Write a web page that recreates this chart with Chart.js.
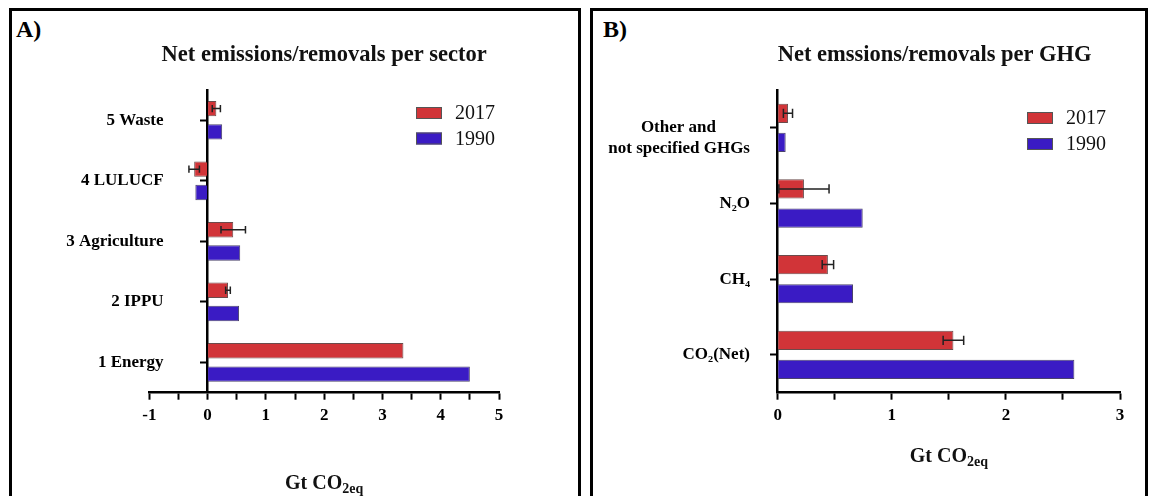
<!DOCTYPE html>
<html lang="en">
<head>
<meta charset="UTF-8">
<title>Net emissions/removals per sector and per GHG</title>
<script src="https://cdn.jsdelivr.net/npm/chart.js@4.4.1/dist/chart.umd.min.js"></script>
<style>
html, body { margin: 0; padding: 0; background: #fff; overflow: hidden; }
body { width: 1150px; height: 496px; position: relative; font-family: "Liberation Serif", "Times New Roman", serif; }
.panel { position: absolute; top: 8px; height: 500px; border: 3px solid #000; box-sizing: border-box; }
.box { position: absolute; top: 11px; }
.tag { position: absolute; top: 17px; font-weight: bold; font-size: 24px; line-height: 24px; }
</style>
</head>
<body>

<script>
// panel A - per sector (top to bottom)
var sectorLabels = ['5 Waste', '4 LULUCF', '3 Agriculture', '2 IPPU', '1 Energy'];
var sector2017 = [0.15, -0.23, 0.44, 0.35, 3.36];
var sector2017Err = [0.07, 0.09, 0.21, 0.04, null];
var sector1990 = [0.25, -0.21, 0.56, 0.54, 4.50];
var sectorRange = [-1, 5];

// panel B - per gas (top to bottom)
var ghgLabels = [['', 'Other and        ', 'not specified GHGs'], 'N\u2082O', 'CH\u2084', 'CO\u2082(Net)'];
var ghg2017 = [0.09, 0.23, 0.44, 1.54];
var ghg2017Err = [0.04, 0.22, 0.05, 0.09];
var ghg1990 = [0.07, 0.745, 0.66, 2.60];
var ghgRange = [0, 3];

var seriesNames = ['2017', '1990'];
var red = '#d13438';
var blue = '#3a1bc4';
</script>

<div class="panel" style="left:9px; width:572px;"></div>
<div class="panel" style="left:590px; width:558px;"></div>
<div class="tag" style="left:16px;">A)</div>
<div class="tag" style="left:603px;">B)</div>

<div class="box" style="left:12px;"><canvas id="chartA" width="566" height="485"></canvas></div>
<div class="box" style="left:593px;"><canvas id="chartB" width="552" height="485"></canvas></div>

<script>
var serif = "'Liberation Serif', 'Times New Roman', serif";

// error bars for datasets that carry an "errors" array
var errorBars = {
  id: 'errorBars',
  afterDatasetsDraw: function(chart) {
    var ctx = chart.ctx;
    var xs = chart.scales.x;
    chart.data.datasets.forEach(function(ds, i) {
      if (!ds.errors) return;
      var meta = chart.getDatasetMeta(i);
      meta.data.forEach(function(bar, j) {
        var e = ds.errors[j];
        if (e == null) return;
        var x1 = xs.getPixelForValue(ds.data[j] - e);
        var x2 = xs.getPixelForValue(ds.data[j] + e);
        var y = bar.y;
        var h = bar.height * 0.24;
        ctx.save();
        ctx.strokeStyle = '#222';
        ctx.lineWidth = 1.5;
        ctx.beginPath();
        ctx.moveTo(x1, y); ctx.lineTo(x2, y);
        ctx.moveTo(x1, y - h); ctx.lineTo(x1, y + h);
        ctx.moveTo(x2, y - h); ctx.lineTo(x2, y + h);
        ctx.stroke();
        ctx.restore();
      });
    });
  }
};

// legend drawn inside the plot, top right
var boxLegend = {
  id: 'boxLegend',
  afterDraw: function(chart, args, opts) {
    var ctx = chart.ctx;
    var area = chart.chartArea;
    var x = area.right + opts.dx;
    chart.data.datasets.forEach(function(ds, i) {
      var y = area.top + opts.dy + i * opts.gap;
      ctx.save();
      ctx.fillStyle = ds.backgroundColor;
      ctx.strokeStyle = '#555';
      ctx.lineWidth = 1;
      ctx.fillRect(x, y, 26, 12);
      ctx.strokeRect(x + 0.5, y + 0.5, 25, 11);
      ctx.fillStyle = '#111';
      ctx.font = '20px ' + serif;
      ctx.textBaseline = 'middle';
      ctx.textAlign = 'left';
      ctx.fillText(ds.label, x + 39, y + 7);
      ctx.restore();
    });
  }
};

// "Gt CO2eq" under the x axis, with subscript
var unitTitle = {
  id: 'unitTitle',
  afterDraw: function(chart, args, opts) {
    var ctx = chart.ctx;
    var area = chart.chartArea;
    var main = 'Gt CO', sub = '2eq';
    ctx.save();
    ctx.fillStyle = '#111';
    ctx.textBaseline = 'alphabetic';
    ctx.font = 'bold 20px ' + serif;
    var w1 = ctx.measureText(main).width;
    ctx.font = 'bold 14px ' + serif;
    var w2 = ctx.measureText(sub).width;
    var x = (area.left + area.right) / 2 - (w1 + w2) / 2;
    var y = area.bottom + opts.dy + 7;
    ctx.font = 'bold 20px ' + serif;
    ctx.fillText(main, x, y);
    ctx.font = 'bold 14px ' + serif;
    ctx.fillText(sub, x + w1, y + 4);
    ctx.restore();
  }
};

function makeChart(id, labels, v2017, e2017, v1990, range, cfg) {
  var ctx = document.getElementById(id).getContext('2d');
  return new Chart(ctx, {
    type: 'bar',
    data: {
      labels: labels,
      datasets: [{
        label: seriesNames[0],
        data: v2017,
        errors: e2017,
        backgroundColor: red,
        borderColor: 'rgba(70,30,30,0.8)',
        borderWidth: 1
      }, {
        label: seriesNames[1],
        data: v1990,
        backgroundColor: blue,
        borderColor: 'rgba(30,20,70,0.8)',
        borderWidth: 1
      }]
    },
    options: {
      responsive: false,
      animation: false,
      indexAxis: 'y',
      categoryPercentage: 0.77,
      barPercentage: 0.66,
      layout: { padding: { left: cfg.left, right: cfg.right, top: 0, bottom: 63.3 } },
      scales: {
        x: {
          type: 'linear',
          min: range[0],
          max: range[1],
          afterFit: function(scale) { scale.height = 40; },
          ticks: {
            stepSize: 0.5,
            autoSkip: false,
            maxRotation: 0,
            padding: 6,
            color: '#000',
            font: { family: serif, size: 17, weight: 'bold' },
            callback: function(v) { return Number.isInteger(v) ? String(v) : ''; }
          },
          grid: { drawOnChartArea: false, tickLength: 7, tickWidth: 2, tickColor: '#000' },
          border: { color: '#000', width: 2.5 }
        },
        // category labels, right-aligned a little left of the zero line
        y: {
          position: { x: cfg.labelAt },
          offset: true,
          afterFit: function(scale) { scale.width = 0; },
          ticks: {
            color: '#000',
            font: { family: serif, size: 17, weight: 'bold', lineHeight: 1.2 }
          },
          grid: { display: false, drawTicks: false },
          border: { display: false }
        },
        // the vertical axis line with its ticks, sitting at x = 0
        y2: {
          type: 'category',
          axis: 'y',
          position: { x: 0 },
          offset: true,
          afterFit: function(scale) { scale.width = 0; },
          ticks: { display: false },
          grid: { drawOnChartArea: false, offset: false, tickLength: 6, tickWidth: 2, tickColor: '#000' },
          border: { color: '#000', width: 2.5 }
        }
      },
      plugins: {
        legend: { display: false },
        tooltip: { enabled: false },
        title: {
          display: true,
          text: cfg.title,
          align: cfg.titleAlign,
          color: '#111',
          font: { family: serif, size: 22.5, weight: 'bold', lineHeight: 1.2 },
          padding: { top: 30.5, bottom: 21.5 }
        },
        boxLegend: cfg.legend,
        unitTitle: { dy: cfg.unitDy }
      }
    },
    plugins: [errorBars, boxLegend, unitTitle]
  });
}

makeChart('chartA', sectorLabels, sector2017, sector2017Err, sector1990, sectorRange, {
  left: 137.3, right: 79, labelAt: -0.755,
  title: 'Net emissions/removals per sector', titleAlign: 'center',
  legend: { dx: -83, dy: 17, gap: 25.5 },
  unitDy: 89
});

makeChart('chartB', ghgLabels, ghg2017, ghg2017Err, ghg1990, ghgRange, {
  left: 184.7, right: 25, labelAt: -0.243,
  title: 'Net emssions/removals per GHG', titleAlign: 'start',
  legend: { dx: -93, dy: 22, gap: 26 },
  unitDy: 62
});
</script>
</body>
</html>
